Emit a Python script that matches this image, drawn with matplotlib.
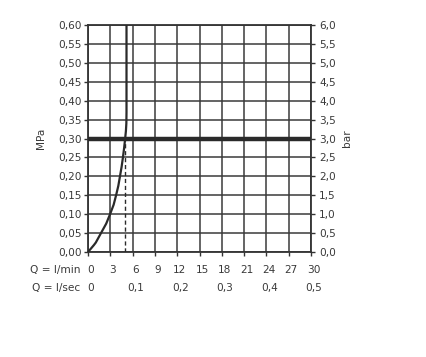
import matplotlib
matplotlib.use("Agg")
import matplotlib.pyplot as plt
from matplotlib.transforms import ScaledTranslation

# Data
q_lmin_ticks = [0, 3, 6, 9, 12, 15, 18, 21, 24, 27, 30]
q_lsec_ticks = [0, 0.1, 0.2, 0.3, 0.4, 0.5]
mpa_ticks = [0.00, 0.05, 0.10, 0.15, 0.20, 0.25, 0.30, 0.35, 0.40, 0.45, 0.50, 0.55, 0.60]
bar_ticks = [0.0, 0.5, 1.0, 1.5, 2.0, 2.5, 3.0, 3.5, 4.0, 4.5, 5.0, 5.5, 6.0]

curve_q = [0, 0.35, 0.8, 1.05, 1.75, 2.45, 2.97, 3.45, 3.78, 4.08, 4.3, 4.52, 4.7, 4.86, 5.0, 5.1, 5.16, 5.18, 5.18]
curve_p = [0, 0.008, 0.0185, 0.025, 0.05, 0.075, 0.10, 0.125, 0.15, 0.175, 0.20, 0.225, 0.25, 0.275, 0.30, 0.32, 0.34, 0.37, 0.60]
ref_pressure = 0.30
dash_q = 5.04

col = "#3a3a3a"
plt.rcParams['font.family'] = ['DejaVu Sans']
fs = 7.6

fig = plt.figure(figsize=(4.26, 3.57), dpi=100)
ax = fig.add_axes([88/426, 1-252/357, (311-88)/426, (252-25)/357])
ax.set_xlim(0, 30)
ax.set_ylim(0, 0.6)

ax.set_xticks(q_lmin_ticks)
ax.set_xticklabels([str(v) for v in q_lmin_ticks], fontsize=fs, color=col)
ax.set_yticks(mpa_ticks)
ax.set_yticklabels([f"{v:.2f}".replace('.', ',') for v in mpa_ticks], fontsize=fs, color=col)
ax.grid(True, color="#3a3a3a", linewidth=1.1)
ax.set_axisbelow(True)
for s in ax.spines.values():
    s.set_color("#333333")
    s.set_linewidth(1.3)
ax.tick_params(axis='y', length=3, width=1, color="#333333", pad=1.5)
ax.tick_params(axis='x', length=3, width=1, color="#333333", pad=6.5)
shift = ScaledTranslation(2.5/100, 0, fig.dpi_scale_trans)
for lab in ax.get_xticklabels():
    lab.set_transform(lab.get_transform() + shift)

# curves
ax.plot(curve_q, curve_p, color="#2a2a2a", linewidth=1.6, zorder=4,
        solid_joinstyle='round')
ax.plot([dash_q, dash_q], [0, ref_pressure], color="#2a2a2a", linewidth=1.0,
        linestyle=(0, (3, 2)), zorder=4)
ax.axhline(ref_pressure, color="#2a2a2a", linewidth=3.2, zorder=5)

ax.set_ylabel("MPa", fontsize=fs, color=col, labelpad=9)

# right axis
ax2 = ax.twinx()
ax2.set_ylim(0, 6)
ax2.set_yticks(bar_ticks)
ax2.set_yticklabels([f"{v:.1f}".replace('.', ',') for v in bar_ticks], fontsize=fs, color=col)
ax2.tick_params(axis='y', length=3, width=1, color="#333333", pad=3)
for s in ax2.spines.values():
    s.set_visible(False)
ax2.set_ylabel("bar", fontsize=fs, color=col, labelpad=4)

# bottom labels
trans = ax.get_xaxis_transform()
y1 = -(270-252)/227
y2 = -(288-252)/227
ax.text(-1.0, y1, "Q = l/min", transform=trans, ha='right', va='center', fontsize=fs, color=col)
ax.text(-1.0, y2, "Q = l/sec", transform=trans, ha='right', va='center', fontsize=fs, color=col)
for v in q_lsec_ticks:
    lab = "0" if v == 0 else f"{v:.1f}".replace('.', ',')
    ax.text(v*60, y2, lab, transform=trans + ScaledTranslation(3/100, 0, fig.dpi_scale_trans),
            ha='center', va='center', fontsize=fs, color=col)

fig.savefig("out.png", dpi=100)
